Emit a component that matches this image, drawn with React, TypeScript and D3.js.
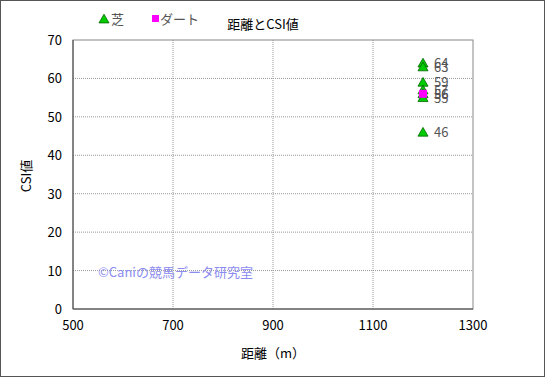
import React from "react";
import * as d3 from "d3";

const turfDistance = [1200, 1200, 1200, 1200, 1200, 1200, 1200];
const turfCSI = [64, 63, 59, 57, 56, 55, 46];
const dirtDistance = [1200];
const dirtCSI = [56];
const xTicks = [500, 700, 900, 1100, 1300];
const yTicks = [0, 10, 20, 30, 40, 50, 60, 70];

const W = 545, H = 377;
const left = 73, right = 473, top = 40, bottom = 309;
const font = "'Noto Sans CJK JP', 'DejaVu Sans', sans-serif";

export default function App() {
  const x = d3.scaleLinear().domain([500, 1300]).range([left, right]);
  const y = d3.scaleLinear().domain([0, 70]).range([bottom, top]);
  const tri = d3.symbol().type(d3.symbolTriangle).size(44)() as string;
  return (
    <svg width={W} height={H} style={{ position: "absolute", left: 0, top: 0 }} fontFamily={font}>
      <rect x={0.5} y={0.5} width={W - 1} height={H - 1} fill="#fff" stroke="#555" />
      {yTicks.map((t) => (
        <g key={"y" + t}>
          {t > 0 && t < 70 && (
            <line x1={left} x2={right} y1={y(t)} y2={y(t)} stroke="#999" strokeDasharray="1,1" />
          )}
          <text x={62} y={y(t) + 5} textAnchor="end" fontSize={13} fill="#000">{t}</text>
        </g>
      ))}
      {xTicks.map((t) => (
        <g key={"x" + t}>
          {t > 500 && t < 1300 && (
            <line x1={x(t)} x2={x(t)} y1={top} y2={bottom} stroke="#999" strokeDasharray="1,1" />
          )}
          <text x={x(t)} y={330} textAnchor="middle" fontSize={13} fill="#000">{t}</text>
        </g>
      ))}
      <rect x={left} y={top} width={right - left} height={bottom - top} fill="none" stroke="#888" />
      <line x1={left} x2={right} y1={bottom} y2={bottom} stroke="#444" />
      <line x1={left} x2={left} y1={top} y2={bottom} stroke="#444" />
      <text x={98} y={277} fontSize={13} fill="#8c8cf0">©Caniの競馬データ研究室</text>
      {turfCSI.map((v, i) => (
        <g key={"t" + i}>
          <path d={tri} transform={`translate(${x(turfDistance[i])},${y(v) + 1})`} fill="#00cc00" stroke="#006600" strokeWidth={0.8} />
          <text x={x(turfDistance[i]) + 11} y={y(v) + 5} fontSize={13} fill="#555">{v}</text>
        </g>
      ))}
      {dirtCSI.map((v, i) => (
        <g key={"d" + i}>
          <rect x={x(dirtDistance[i]) - 4} y={y(v) - 4} width={8} height={8} fill="#ff00ff" />
          <text x={x(dirtDistance[i]) + 11} y={y(v) + 5} fontSize={13} fill="#555">{v}</text>
        </g>
      ))}
      <path d={tri} transform="translate(104,20)" fill="#00cc00" stroke="#006600" strokeWidth={0.8} />
      <text x={111} y={24} fontSize={13} fill="#555">芝</text>
      <rect x={152} y={15} width={7} height={7} fill="#ff00ff" />
      <text x={160} y={24} fontSize={13} fill="#555">ダート</text>
      <text x={263} y={29} textAnchor="middle" fontSize={13} fill="#000">距離とCSI値</text>
      <text transform="translate(31,176) rotate(-90)" textAnchor="middle" fontSize={13} fill="#000">CSI値</text>
      <text x={273} y={358} textAnchor="middle" fontSize={13} fill="#000">距離（m）</text>
    </svg>
  );
}
